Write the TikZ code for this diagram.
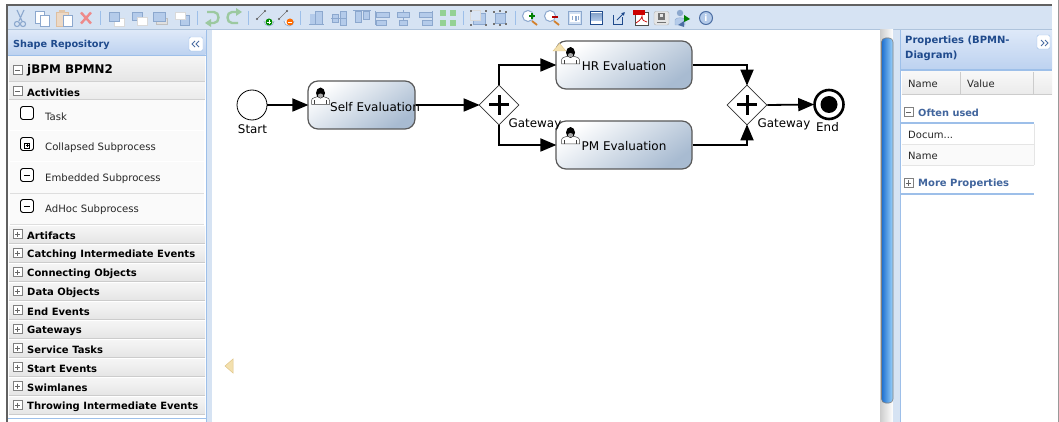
\documentclass[tikz,border=0pt]{standalone}
\usepackage{fontspec}
\setmainfont{DejaVu Sans}
\usetikzlibrary{arrows.meta,shapes.geometric}
\definecolor{tbbg}{HTML}{D6E3F3}
\definecolor{tbline}{HTML}{AFC4DC}
\definecolor{panelblue}{HTML}{9DBFE9}
\definecolor{headtop}{HTML}{DDE8F8}
\definecolor{headbot}{HTML}{BDD2F0}
\definecolor{titleblue}{HTML}{1F4A8C}
\definecolor{iconblue}{HTML}{B4CBEA}
\definecolor{icondark}{HTML}{8CA8CE}
\definecolor{taskblue}{HTML}{A8BBD1}
\definecolor{rowline}{HTML}{DEDEDE}
\definecolor{scrolldark}{HTML}{1C6FD0}
\definecolor{scrolllight}{HTML}{9CD2FA}
\definecolor{undogreen}{HTML}{9CC9A0}
\definecolor{delred}{HTML}{EE8A8A}
\definecolor{tanfill}{HTML}{F3E0AE}
\definecolor{tanline}{HTML}{E0C588}
\tikzset{
  px/.style={x=1pt,y=-1pt},
  taskbox/.style={draw=black!65,line width=1.2pt,rounded corners=10pt,minimum width=#1,minimum height=48pt,inner sep=0pt,
    top color=white,bottom color=taskblue,shading angle=35},
  gate/.style={diamond,aspect=1,draw=black!80,fill=white,line width=.7pt,minimum width=40pt,minimum height=40pt,inner sep=0pt},
  startev/.style={circle,draw=black,fill=white,line width=.8pt,minimum size=30pt,inner sep=0pt},
  endev/.style={circle,draw=black,fill=white,line width=2.6pt,minimum size=29pt,inner sep=0pt},
  flow/.style={draw=black,line width=1.8pt,shorten >=-1pt,-{Triangle[length=16pt,width=13pt]}},
  lbl/.style={font=\fontsize{11.9}{13}\selectfont,text=black,inner sep=0pt},
  tasklbl/.style={font=\fontsize{12}{14}\selectfont,text=black,inner sep=0pt},
  sec/.style={font=\bfseries\fontsize{10}{12}\selectfont,text=black,inner sep=0pt,anchor=west},
  item/.style={font=\fontsize{10.1}{12}\selectfont,text=black!85,inner sep=0pt,anchor=west},
  title/.style={font=\bfseries\fontsize{9.7}{12}\selectfont,text=titleblue,inner sep=0pt,anchor=west},
  prop/.style={font=\fontsize{10}{12}\selectfont,text=black!85,inner sep=0pt,anchor=west},
  ibox/.style={draw=icondark,fill=iconblue,line width=.5pt},
  iboxl/.style={draw=black!15,fill=white,line width=.5pt},
  sep/.style={draw=panelblue,line width=.8pt},
  palicon/.style={draw=black,fill=white,line width=.9pt,rounded corners=2.5pt},
}
\newcommand{\expbox}[3]{% x y sign(1 plus,0 minus)
  \draw[black!50,fill=white,line width=.5pt] (#1-4.5,#2-4.5) rectangle (#1+4.5,#2+4.5);
  \draw[black!60,line width=.6pt] (#1-2.5,#2) -- (#1+2.5,#2);
  \ifnum#3=1 \draw[black!60,line width=.6pt] (#1,#2-2.5) -- (#1,#2+2.5);\fi}
\newcommand{\usericon}[2]{%
  \begin{scope}[shift={(#1,#2)}]
    \draw[black!75,fill=white,line width=.5pt] (-9,9) -- (-9,5) .. controls (-9,2) and (-4,2) .. (-3,1) -- (3,1) .. controls (4,2) and (9,2) .. (9,5) -- (9,9) -- cycle;
    \draw[black!75,line width=.4pt] (-6,9) -- (-6,5) (6,9) -- (6,5);
    \fill[black] (0,-2.5) ellipse (4.5 and 5.5);
    \fill[black!35] (0,.2) ellipse (2.6 and 2.2);
  \end{scope}}
\newcommand{\dbl}[2]{% z-order
  \begin{scope}[shift={(#1,18)}]#2\end{scope}}
\begin{document}
\begin{tikzpicture}[px]
\useasboundingbox (0,0) rectangle (1059,422);
\fill[white] (0,0) rectangle (1059,422);
% outer frame
\fill[black!62] (6,4) rectangle (1052,6.5);
\fill[black!62] (6,4) rectangle (8,422);
\fill[black!40] (1058,0) rectangle (1059,422);
% toolbar
\fill[tbbg] (8,6.5) rectangle (1052,29);
\fill[tbline] (8,29) rectangle (1052,30);
% left strip and panel
\fill[tbbg] (206,30) rectangle (212,422);
\fill[white] (8,30) rectangle (206,422);
\fill[panelblue] (205.5,30) rectangle (207,422);
\shade[top color=headtop,bottom color=headbot] (8,31) rectangle (205.5,55);
\fill[panelblue] (8,55) rectangle (205.5,56);
\node[title] (shaperepo) at (13,44.5) {Shape Repository};
\draw[panelblue,fill=white,rounded corners=1.5pt] (189,37) rectangle (203,51);
\draw[titleblue!80,line width=.8pt] (195,41) -- (192,44) -- (195,47) (199,41) -- (196,44) -- (199,47);
% jBPM row
\shade[top color=white!96!black,bottom color=black!10] (9,57) rectangle (205,81);
\draw[black!18] (9,81.5) -- (205,81.5);
\expbox{17.5}{70}{0}
\node[sec,font=\bfseries\fontsize{11.9}{14}\selectfont] (jbpm) at (27,70.5) {jBPM BPMN2};
\shade[top color=white!96!black,bottom color=black!8] (9,83) rectangle (205,99);
\draw[black!18] (9,99.5) -- (205,99.5);
\expbox{17.5}{91}{0}
\node[sec] (activities) at (27,92.5) {Activities};
% palette items
\foreach \yy/\tt/\kk in {115.5/Task/0,146.5/Collapsed Subprocess/1,177.5/Embedded Subprocess/2,208.5/AdHoc Subprocess/2}{
  \fill[black!2] (10,\yy-15) rectangle (204,\yy+15);
  \draw[rowline,line width=.5pt] (10,\yy+15.5) -- (204,\yy+15.5);
  \draw[palicon] (20.5,\yy-9) rectangle (33.5,\yy+4);
  \ifnum\kk=1
    \draw[black,line width=.5pt] (24.5,\yy-3.5) rectangle (29.5,\yy+1.5);
    \draw[black,line width=.5pt] (25.5,\yy-1) -- (28.5,\yy-1) (27,\yy-2.5) -- (27,\yy+.5);
  \fi
  \ifnum\kk=2
    \draw[black,line width=.7pt] (24,\yy-2.5) -- (30,\yy-2.5);
  \fi
  \node[item] at (45,\yy+1.2) {\tt};
}
% section rows
\foreach \nn/\yy/\tt in {a/235/Artifacts,b/254/Catching Intermediate Events,c/273/Connecting Objects,d/292/Data Objects,e/311/End Events,f/330/Gateways,g/349/Service Tasks,h/368/Start Events,i/387/Swimlanes,j/406/Throwing Intermediate Events}{
  \shade[top color=white!96!black,bottom color=black!10] (9,\yy-8.5) rectangle (205,\yy+8);
  \draw[black!20] (9,\yy+8.5) -- (205,\yy+8.5);
  \expbox{17.5}{\yy-1}{1}
  \node[sec] (sec\nn) at (27,\yy+.5) {\tt};
}
\draw[panelblue,line width=.8pt] (8,418) -- (206,418);
% toolbar icons
\begin{scope}[shift={(20,18)}]
  \draw[icondark,line width=1.1pt] (-3,-8) -- (2,3) (4,-8) -- (-1,3);
  \draw[icondark,line width=1.1pt] (-3,6) circle (2.6) (3,6) circle (2.6);
\end{scope}
\begin{scope}[shift={(42,18)}]
  \draw[ibox,fill=white] (-7,-7) rectangle (2,5);
  \draw[ibox,fill=white] (-2,-3) rectangle (7,8);
\end{scope}
\begin{scope}[shift={(64,18)}]
  \draw[draw=brown!50,fill=brown!30,line width=.5pt] (-8,-6) rectangle (4,8);
  \fill[brown!45] (-5,-8) rectangle (1,-5);
  \draw[ibox,fill=white] (-1,-3) rectangle (8,8);
\end{scope}
\draw[delred,line width=2.4pt] (81,12.5) -- (91,23.5) (91,12.5) -- (81,23.5);
\draw[sep] (100.5,11) -- (100.5,25);
\dbl{116}{\draw[iboxl] (-2,0) rectangle (8,8);\draw[ibox] (-7,-6) rectangle (3,3);}
\dbl{139}{\draw[ibox] (-7,-6) rectangle (3,2);\draw[iboxl] (-2,-1) rectangle (8,7);}
\dbl{160}{\draw[iboxl,draw=black!25,fill=black!12] (-4,0) rectangle (7,6);\draw[ibox] (-7,-6) rectangle (5,3);}
\dbl{182}{\draw[ibox] (-2,-3) rectangle (7,7);\draw[iboxl] (-7,-6) rectangle (3,1);}
\draw[sep] (197,11) -- (197,25);
\draw[undogreen,line width=2.4pt] (207,12) -- (214,12) .. controls (220,12) and (220,23) .. (214,23) -- (207,23);
\fill[undogreen] (205,23) -- (211,19) -- (211,27) -- cycle;
\draw[undogreen,line width=2.4pt] (239,12) -- (232,12) .. controls (226,12) and (226,23) .. (232,23) -- (238,23);
\fill[undogreen] (242,12) -- (236,8) -- (236,16) -- cycle;
\draw[sep] (248.5,11) -- (248.5,25);
\draw[black!55,line width=.5pt] (257,19) -- (265,11);
\fill[black!65] (257,19) circle (1.2) (265,11) circle (1.2);
\draw[icondark,fill=white,line width=.7pt] (264,21) arc[start angle=180,end angle=0,radius=5];
\fill[green!55!black] (269,22) circle (3.5);
\draw[white,line width=.7pt] (267,22) -- (271,22) (269,20) -- (269,24);
\draw[black!55,line width=.5pt] (279,19) -- (287,11);
\fill[black!65] (279,19) circle (1.2) (287,11) circle (1.2);
\draw[icondark,fill=white,line width=.7pt] (284,21) arc[start angle=180,end angle=0,radius=5];
\fill[orange!85!red] (290,22) circle (3.5);
\draw[white,line width=.7pt] (288,22) -- (292,22);
\draw[sep] (300.5,11) -- (300.5,25);
% align icons
\fill[iconblue] (310,14) rectangle (315,24);
\draw[ibox] (315,11) rectangle (322,24);
\draw[icondark,line width=.7pt] (309,24.5) -- (324,24.5);
\draw[ibox] (332,14) rectangle (338,22);\draw[ibox] (340,11) rectangle (346,25);
\draw[icondark,line width=.7pt] (331,18) -- (347,18);
\draw[ibox] (355,11) rectangle (361,22);\draw[ibox] (363,11) rectangle (369,19);
\draw[icondark,line width=.7pt] (353,10.5) -- (371,10.5);
\draw[icondark,line width=.7pt] (375.5,11) -- (375.5,25);
\draw[ibox] (376,12) rectangle (389,17);\draw[ibox] (376,20) rectangle (386,25);
\draw[icondark,line width=.7pt] (403,10) -- (403,26);
\draw[ibox] (397,12) rectangle (409,17);\draw[ibox] (399,20) rectangle (407,25);
\draw[icondark,line width=.7pt] (432.5,11) -- (432.5,25);
\draw[ibox] (419,12) rectangle (432,17);\draw[ibox] (422,20) rectangle (432,25);
\foreach \xa/\ya in {443/13,453/13,443/23,453/23}{
  \fill[green!40!gray!60] (\xa-3,\ya-3) rectangle (\xa+3,\ya+3);}
\draw[sep] (463,11) -- (463,25);
\draw[ibox] (473,13) rectangle (485,24);\draw[iboxl,fill=iconblue!50] (470,10) rectangle (480,20);
\foreach \xa/\ya in {471/11,486/11,471/25,486/25}{\fill[black!55] (\xa-1,\ya-1) rectangle (\xa+1,\ya+1);}
\draw[ibox] (495,13) rectangle (505,23);
\foreach \xa/\ya in {494/12,506/12,494/24,506/24,500/11,500/25}{\fill[black!55] (\xa-1,\ya-1) rectangle (\xa+1,\ya+1);}
\draw[sep] (515,11) -- (515,25);
% zoom icons
\draw[icondark,fill=white,line width=1pt] (528,16) circle (5.5);
\draw[brown!70!orange,line width=1.8pt] (532,21) -- (537,25);
\draw[green!50!black,line width=1.2pt] (529,16) -- (535,16) (532,13) -- (532,19);
\draw[icondark,fill=white,line width=1pt] (550,16) circle (5.5);
\draw[brown!70!orange,line width=1.8pt] (554,21) -- (559,25);
\draw[red!70!black,line width=1.2pt] (552,17) -- (558,17);
\draw[ibox,fill=iconblue!60] (568,11.5) rectangle (581.5,24.5);
\draw[white,fill=white] (570,14.5) rectangle (579.5,21.5);
\draw[icondark,line width=.8pt] (572,16) -- (572,20) (575,16) rectangle (576.5,20) (578,16) -- (578,20);
\draw[titleblue,fill=white,line width=.8pt] (590,11.5) rectangle (602.5,24.5);
\shade[top color=icondark,bottom color=iconblue] (591,14) rectangle (602,21);
\draw[titleblue,line width=.9pt] (613,15) -- (613,24.5) -- (622.5,24.5) -- (622.5,17);
\draw[titleblue,line width=1pt,-{Latex[length=3.5pt,width=4pt]}] (617,20) -- (625,12);
\draw[black!70,fill=white,line width=.7pt] (635,12) -- (648,12) -- (648,25) -- (635,25) -- cycle;
\fill[red!80!black] (633,10.5) rectangle (645,15);
\draw[red!80!black,line width=.7pt] (636,23) .. controls (641,20) and (642,17) .. (642,16) .. controls (642,20) and (644,22) .. (647,22);
\draw[black!30,fill=black!10,rounded corners=2pt] (654,11.5) rectangle (669,25);
\fill[black!55] (658,13) rectangle (665,20);
\fill[black!10] (660,14) rectangle (663,17);
\draw[black!55,line width=.7pt] (657,22.5) -- (666,22.5);
\fill[icondark] (680,13) circle (3.2);
\draw[icondark,fill=iconblue,line width=.4pt] (675,25) -- (675,20) .. controls (675,17) and (685,17) .. (685,20) -- (685,25) -- cycle;
\fill[green!50!black] (684,15) -- (690,19) -- (684,22) -- cycle;
\fill[titleblue!80] (684,21) -- (678,25) -- (684,27) -- cycle;
\draw[titleblue!80,fill=iconblue,line width=1pt] (706,18) circle (6.5);
\node[inner sep=0pt,text=white,font=\bfseries\fontsize{9}{9}\selectfont] (infoi) at (706,18) {i};
% scroll strip
\shade[left color=black!20,right color=white] (880,30) rectangle (893,422);
\fill[tbbg] (893,30) rectangle (900,422);
\fill[panelblue] (900,30) rectangle (901,422);
\draw[draw=black!50,line width=.6pt,left color=scrolldark,right color=scrolllight,rounded corners=4pt] (881.5,38) rectangle (893,403);
% right panel
\shade[top color=headtop,bottom color=headbot] (901,31) rectangle (1052,69);
\fill[panelblue] (901,69) rectangle (1052,71);
\node[title,font=\bfseries\fontsize{10}{15}\selectfont,align=left,anchor=north west] (proptitle) at (905,36) {Properties (BPMN-\\Diagram)};
\draw[panelblue,fill=white,rounded corners=1.5pt] (1037,35) rectangle (1050,49);
\draw[titleblue!80,line width=.8pt] (1041,40) -- (1044,43) -- (1041,46) (1045,40) -- (1048,43) -- (1045,46);
\shade[top color=black!3,bottom color=black!8] (902,72) rectangle (1052,94.5);
\draw[black!20] (902,94.5) -- (1052,94.5) (960.5,72) -- (960.5,94.5) (1033.5,72) -- (1033.5,94.5);
\node[prop] (pname) at (908,83.5) {Name};
\node[prop] (pvalue) at (967,83.5) {Value};
\expbox{908.5}{112}{0}
\node[title,text=titleblue!85,font=\bfseries\fontsize{9.8}{12}\selectfont] (often) at (918,112.5) {Often used};
\fill[panelblue] (901,122) rectangle (1034,124);
\fill[black!2] (902,145) rectangle (1034,165);
\draw[black!10] (902,144.5) -- (1034,144.5) (902,165) -- (1034,165) (1034,124) -- (1034,165);
\node[prop] (docum) at (908,134.5) {Docum...};
\node[prop] (nameb) at (908,155.5) {Name};
\expbox{908.5}{183}{1}
\node[title,text=titleblue!85,font=\bfseries\fontsize{10}{12}\selectfont] (moreprops) at (918,183.5) {More Properties};
\fill[panelblue] (901,193) rectangle (1034,195);
% small triangle on the canvas
\draw[tanline,fill=tanfill,line width=.5pt] (233,359) -- (225,366) -- (233,373) -- cycle;
% BPMN nodes
\node[startev] (start) at (252,105) {};
\node[taskbox=107pt] (self) at (361.5,105) {};
\node[gate] (gw1) at (499,105) {};
\node[taskbox=136pt] (hr) at (624,65) {};
\node[taskbox=136pt] (pm) at (624,145) {};
\node[gate] (gw2) at (747,105) {};
\node[endev] (end) at (829,104.5) {};
\fill[black] (end.center) circle (8.5);
\foreach \gg in {gw1,gw2}{
  \draw[black,line width=3pt] ([xshift=-10pt]\gg.center) -- ([xshift=10pt]\gg.center) ([yshift=-10pt]\gg.center) -- ([yshift=10pt]\gg.center);
}
% warning triangle under the HR user icon
\draw[tanline,fill=tanfill,line width=.4pt] (553,51) -- (559.5,43.5) -- (566,51) -- cycle;
\usericon{320.5}{95.5}
\usericon{570.5}{55}
\usericon{570.5}{135}
\node[tasklbl] (selflbl) at (375,106.8) {Self Evaluation};
\node[tasklbl] (hrlbl) at (624,66.3) {HR Evaluation};
\node[tasklbl] (pmlbl) at (624,146.3) {PM Evaluation};
\node[lbl] (startlbl) at (252.5,129) {Start};
\node[lbl] (gw1lbl) at (535,124.5) {Gateway};
\node[lbl] (gw2lbl) at (784,124.5) {Gateway};
\node[lbl] (endlbl) at (827.5,127.5) {End};
% flows
\draw[flow] (start) -- (self);
\draw[flow] (self) -- (gw1);
\draw[flow] (gw1.north) |- (hr.west);
\draw[flow] (gw1.south) |- (pm.west);
\draw[flow] (hr.east) -| (gw2.north);
\draw[flow] (pm.east) -| (gw2.south);
\draw[flow] (gw2.east) -- (end.west);
\end{tikzpicture}
\end{document}
